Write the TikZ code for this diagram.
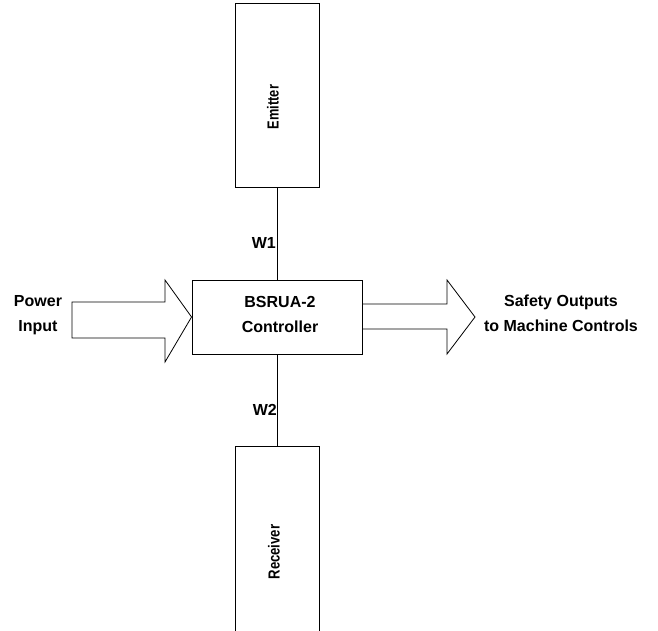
\documentclass[tikz,border=0pt]{standalone}
\usepackage{fontspec}
\setmainfont{Liberation Sans}
\usepackage{graphicx}
\begin{document}
\begin{tikzpicture}[x=1pt,y=-1pt,
  blk/.style={draw=black,line width=0.9pt,fill=white,inner sep=0pt},
  lbl/.style={font=\fontsize{16}{25}\selectfont\bfseries,align=center,inner sep=0pt},
  wire/.style={draw=black,line width=0.9pt},
  fat/.style={draw=black,line width=0.8pt,line join=miter}]
\useasboundingbox (0,0) rectangle (658,630);
% boxes
\node[blk,minimum width=84pt,minimum height=184pt] (emit) at (277,95) {};
\node[lbl] (emitl) at (273,107) {\rotatebox{90}{\scalebox{0.8}[1]{Emitter}}};
\node[blk,minimum width=170pt,minimum height=74pt] (ctrl) at (277,317) {};
\node[lbl] (ctrll) at (280,314) {BSRUA-2\\Controller};
\node[blk,minimum width=84pt,minimum height=200pt] (recv) at (277,546) {};
\node[lbl] (recvl) at (274,552) {\rotatebox{90}{\scalebox{0.82}[1]{Receiver}}};
% wires
\draw[wire] (emit.south) -- (ctrl.north);
\draw[wire] (ctrl.south) -- (recv.north);
\node[lbl,anchor=east] (w1) at (276,243) {W1};
\node[lbl,anchor=east] (w2) at (277,410) {W2};
% input arrow
\coordinate (intip) at (ctrl.west);
\draw[fat] (72,302) -- (165,302) -- (165,280) -- (intip) -- (165,362) -- (165,338) -- (72,338) -- cycle;
\node[lbl] (pin) at (38,315) {Power\\Input};
% output arrow
\coordinate (outtop) at (ctrl.east |- 0,304);
\coordinate (outbot) at (ctrl.east |- 0,329);
\coordinate (outtip) at (475,317);
\draw[fat] (outtop) -- (447,304) -- (447,280) -- (outtip) -- (447,354) -- (447,329) -- (outbot);
\node[lbl] (sout) at (561,313) {Safety Outputs\\to Machine Controls};
\end{tikzpicture}
\end{document}
